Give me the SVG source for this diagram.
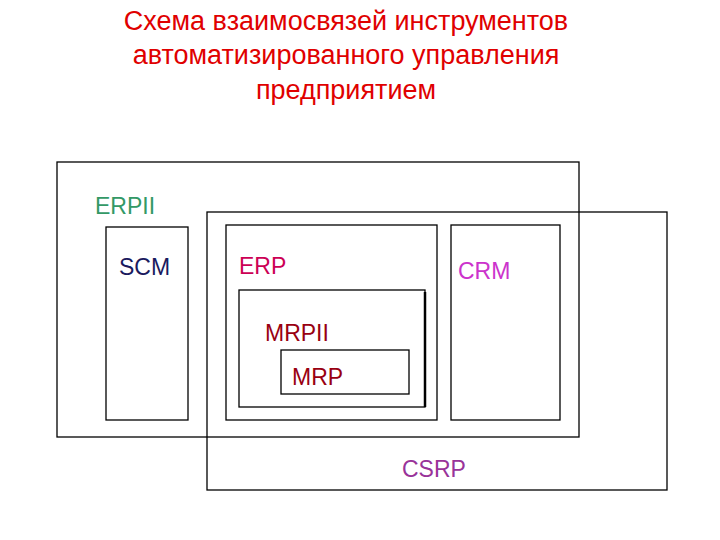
<svg xmlns="http://www.w3.org/2000/svg" width="720" height="540" viewBox="0 0 720 540">
<style>
rect{fill:none;stroke:#000;stroke-width:1.3}
text{font-family:"Liberation Sans",Arial,sans-serif;font-size:23px}
.t{fill:#e00000;font-size:27px;text-anchor:middle}
</style>
<rect x="0" y="0" width="720" height="540" fill="#fff" style="fill:#fff;stroke:none"/>
<g id="title"><text class="t" x="346" y="30">Схема взаимосвязей инструментов</text><text class="t" x="346" y="64">автоматизированного управления</text><text class="t" x="346" y="99">предприятием</text></g>
<g id="erpii"><rect x="57" y="162" width="522" height="275"/><text x="95" y="214" fill="#339966">ERPII</text></g>
<g id="csrp"><rect x="207" y="212" width="460" height="278"/><text x="402" y="477" fill="#993399">CSRP</text></g>
<g id="scm"><rect x="106" y="227" width="82" height="193"/><text x="119" y="275" fill="#1a1a5e">SCM</text></g>
<g id="erp"><rect x="226" y="225" width="211" height="195"/><text x="239" y="274" fill="#cc0055">ERP</text></g>
<g id="crm"><rect x="451" y="225" width="109" height="195"/><text x="458" y="279" fill="#cc33cc">CRM</text></g>
<g id="mrpii"><rect x="239" y="290" width="186" height="117"/><line x1="425" y1="292" x2="425" y2="407" stroke="#000" stroke-width="2.5"/><text x="265" y="341" fill="#990011">MRPII</text></g>
<g id="mrp"><rect x="281" y="350" width="128" height="44"/><text x="292" y="385" fill="#990011">MRP</text></g>
<g id="connectors"/>
</svg>
